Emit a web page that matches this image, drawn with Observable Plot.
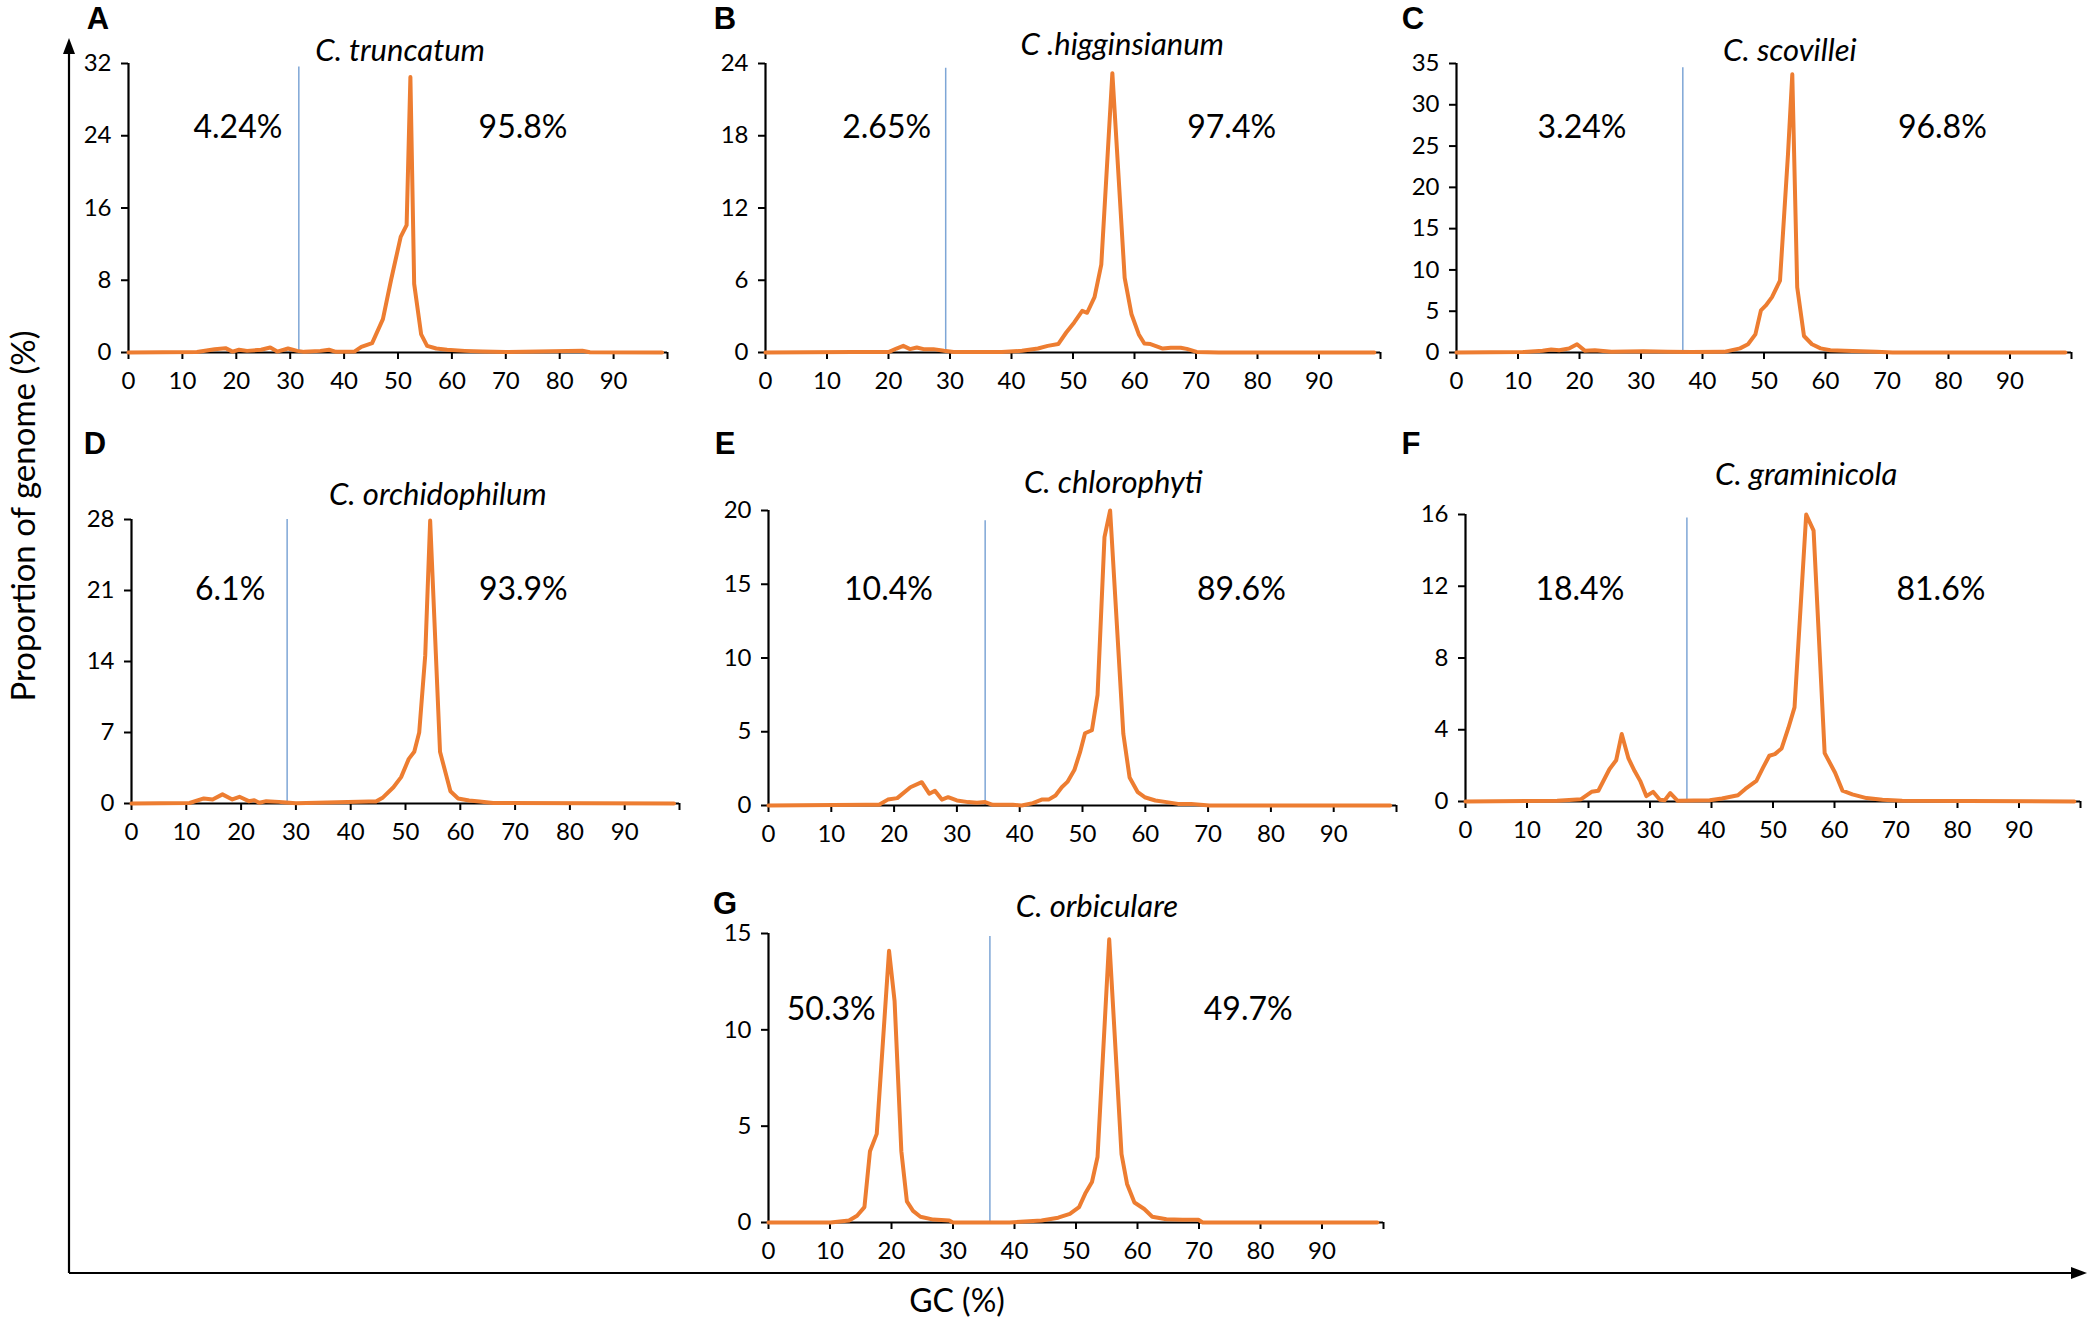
<!DOCTYPE html>
<html><head><meta charset="utf-8">
<script src="https://cdn.jsdelivr.net/npm/d3@7"></script>
<script src="https://cdn.jsdelivr.net/npm/@observablehq/plot@0.6"></script>
<style>
body{margin:0;background:#fff;}
#root{position:relative;width:2090px;height:1321px;background:#fff;overflow:hidden}
.panel{position:absolute}
.letter{position:absolute;font-family:"Liberation Sans",Arial,sans-serif;font-weight:bold;font-size:31px;line-height:1;transform:translate(-50%,-50%)}
</style></head><body><div id="root"></div>
<script>
// ---- Data (GC %, proportion of genome %) ----
const truncatumGC  = [0,12.7,16,18,19.3,20.5,22,24.6,26.3,27.6,29.6,31.3,32.6,35.6,37.2,38.5,41.9,43.2,45.2,47.2,48.7,50.5,51.6,52.3,53,54.3,55.4,57.1,59.1,62.4,65.7,70,84.2,85.6,99];
const truncatumPct = [0,0.05,0.37,0.48,0.1,0.3,0.18,0.3,0.55,0.1,0.44,0.18,0.07,0.18,0.3,0.07,0.1,0.63,1.04,3.7,8.0,12.8,14.1,30.5,7.6,2.0,0.74,0.44,0.3,0.18,0.1,0.05,0.2,0.03,0];

const higginsGC  = [0,14.2,20.1,21.3,22.4,23.5,24.6,25.7,27.3,29,30.6,38.4,41.7,44.3,45.9,47.6,48.9,50.2,51.5,52.3,53.5,54.6,56.4,58.4,59.5,60.7,61.6,62.6,64.6,65.9,67.5,68.5,70.1,73.7,99];
const higginsPct = [0,0.05,0.05,0.33,0.55,0.28,0.42,0.28,0.28,0.14,0.05,0.05,0.14,0.33,0.55,0.7,1.66,2.5,3.46,3.3,4.6,7.3,23.2,6.2,3.2,1.5,0.75,0.7,0.33,0.4,0.4,0.3,0.05,0,0];

const scovilleiGC  = [0,10.8,14,15.4,16.7,18.3,19.6,20.9,22.5,25.2,30.4,34.3,38.2,43.5,46.1,47.4,48.6,49.5,50.3,51.3,52.6,53.9,54.6,55.4,56.5,57.8,59.2,60.8,63.1,68.3,70.9,99];
const scovilleiPct = [0,0.05,0.2,0.36,0.28,0.49,1.0,0.2,0.28,0.1,0.16,0.1,0.05,0.08,0.5,1.0,2.2,5.1,5.7,6.7,8.7,24,33.7,7.9,2.0,1.0,0.5,0.28,0.2,0.08,0,0];

const orchidGC  = [0,10.6,13.2,14.8,16.6,18.4,19.7,21.4,22.4,23.3,24.6,26.9,28.2,30,43.3,44.6,45.9,47.8,49.2,50.6,51.6,52.5,53.6,54.5,56.3,58.2,59.6,61.6,63.5,66,99];
const orchidPct = [0,0.05,0.5,0.4,0.9,0.4,0.66,0.23,0.33,0.07,0.23,0.16,0.1,0.03,0.2,0.2,0.6,1.6,2.6,4.4,5.1,7.0,14.6,27.9,5.1,1.2,0.5,0.3,0.2,0.05,0];

const chloroGC  = [0,15.5,17.6,19,20.5,22.6,24.4,25.6,26.5,27.6,28.6,30,31.8,33.2,34.5,35.7,38.9,40.3,42.1,43.5,44.6,45.7,46.7,47.6,48.7,49.6,50.4,51.5,52.4,53.5,54.4,56.5,57.5,58.8,59.9,61.6,63.4,65.2,67.3,70.2,99];
const chloroPct = [0,0.05,0.05,0.4,0.5,1.24,1.58,0.8,1.0,0.4,0.56,0.34,0.23,0.18,0.23,0.05,0.05,0,0.16,0.4,0.4,0.68,1.24,1.6,2.4,3.6,4.9,5.1,7.5,18.2,20,4.86,1.9,0.9,0.56,0.34,0.23,0.11,0.11,0,0];

const gramGC  = [0,14.9,18.8,20.5,21.6,23.4,24.5,25.4,26.5,27.5,28.4,29.4,30.5,31.6,32.4,33.3,34.5,39.7,41.7,44.3,45.5,47.3,48.4,49.4,50.3,51.4,52.5,53.5,55.4,56.6,58.4,60.1,61.3,62.9,65.2,67.8,71,99];
const gramPct = [0,0.04,0.13,0.54,0.6,1.8,2.3,3.76,2.4,1.7,1.15,0.3,0.54,0.1,0.07,0.47,0.04,0.07,0.17,0.35,0.7,1.15,1.9,2.55,2.64,2.96,4.1,5.25,16.0,15.1,2.7,1.6,0.6,0.4,0.19,0.1,0.04,0];

const orbicGC  = [0,10.1,13.1,14.4,15.6,16.5,17.6,19.6,20.5,21.6,22.5,23.5,24.7,26.8,29.4,30,39.2,44.4,47.1,49,50.5,51.5,52.6,53.5,55.4,57.4,58.3,59.5,61.1,62.4,64.7,67.3,69.9,70.6,99];
const orbicPct = [0,0,0.1,0.35,0.8,3.7,4.6,14.1,11.5,3.7,1.1,0.6,0.3,0.15,0.1,0,0,0.1,0.25,0.45,0.8,1.5,2.1,3.4,14.7,3.55,2.0,1.04,0.7,0.3,0.17,0.14,0.14,0,0];

const speciesNames = ["C. truncatum","C .higginsianum","C. scovillei","C. orchidophilum","C. chlorophyti","C. graminicola","C. orbiculare"];
const panelLetters = ["A","B","C","D","E","F","G"];
const lowGCShare  = ["4.24%","2.65%","3.24%","6.1%","10.4%","18.4%","50.3%"];
const highGCShare = ["95.8%","97.4%","96.8%","93.9%","89.6%","81.6%","49.7%"];
const splitGC  = [31.6,29.3,36.8,28.4,34.5,36,36];
const splitTop = [31.6,23.6,34.5,28,19.3,15.8,14.85];
const yMax  = [32,24,35,28,20,16,15];
const yStep = [8,6,5,7,5,4,5];
const seriesGC  = [truncatumGC,higginsGC,scovilleiGC,orchidGC,chloroGC,gramGC,orbicGC];
const seriesPct = [truncatumPct,higginsPct,scovilleiPct,orchidPct,chloroPct,gramPct,orbicPct];

// ---- Layout (frame edges in page pixels) ----
const frames = [
  {L:128,R:667,T:63,B:352},
  {L:765,R:1380,T:63,B:352},
  {L:1456,R:2071,T:63,B:352},
  {L:131,R:679,T:519,B:803},
  {L:768,R:1396,T:510,B:805},
  {L:1465,R:2080,T:514,B:801},
  {L:768,R:1383,T:933,B:1222}
];
const titleX = [50.4,58,54.2,55.9,54.9,55.4,53.4];
const titleY = [51,45,51,495,483,475,907];
const labelX = [[20.3,73.2],[19.7,75.8],[20.4,79],[18,71.5],[19.1,75.3],[18.6,77.3],[10.2,78]];
const labelY = [127,127,127,589,589,589,1009];
const letterPos = [[98,18],[725,18],[1413,18],[95,443],[725,443],[1411,443],[725,903]];

const root = document.getElementById("root");
const FONT = "Lato, 'Open Sans', sans-serif";
const ORANGE = "#ED7D31";

// background: big axes arrows and titles
const bg = d3.select(root).append("svg").attr("width",2090).attr("height",1321)
  .style("position","absolute").style("left","0").style("top","0");
bg.append("line").attr("x1",69).attr("y1",1273).attr("x2",69).attr("y2",52).attr("stroke","#000").attr("stroke-width",2.2);
bg.append("path").attr("d","M69,38 L63,54 L75,54 Z").attr("fill","#000");
bg.append("line").attr("x1",69).attr("y1",1273).attr("x2",2072).attr("y2",1273).attr("stroke","#000").attr("stroke-width",2.2);
bg.append("path").attr("d","M2087,1273 L2071,1267 L2071,1279 Z").attr("fill","#000");
bg.append("text").attr("transform","translate(35,516) rotate(-90)").attr("text-anchor","middle")
  .attr("font-family",FONT).attr("font-size",33).attr("fill","#000").text("Proportion of genome (%)");
bg.append("text").attr("x",957).attr("y",1312).attr("text-anchor","middle")
  .attr("font-family",FONT).attr("font-size",32).attr("fill","#000").text("GC (%)");

const M = {l:60, r:8, t:70, b:50};
frames.forEach((f, i) => {
  const data = seriesGC[i].map((g, k) => ({gc: g, pct: seriesPct[i][k]}));
  const w = f.R - f.L, h = f.B - f.T;
  const chart = Plot.plot({
    width: w + M.l + M.r, height: h + M.t + M.b,
    marginLeft: M.l, marginRight: M.r, marginTop: M.t, marginBottom: M.b,
    style: {fontFamily: FONT, fontSize: "24px", color: "#000", background: "transparent", overflow: "visible"},
    x: {domain: [0, 100]},
    y: {domain: [0, yMax[i]]},
    marks: [
      Plot.ruleX([splitGC[i]], {y1: 0, y2: splitTop[i], stroke: "#7ea6d6", strokeWidth: 1.5}),
      Plot.axisX({ticks: d3.range(0, 101, 10), tickFormat: d => d === 100 ? "" : d, tickSize: 7, tickPadding: 12, strokeWidth: 2, label: null, fontSize: 24}),
      Plot.axisY({ticks: d3.range(0, yMax[i] + 0.001, yStep[i]), tickSize: 7, tickPadding: 10, strokeWidth: 2, label: null, fontSize: 24}),
      Plot.ruleY([0], {x1: 0, x2: 100, stroke: "#000", strokeWidth: 2.2}),
      Plot.ruleX([0], {y1: 0, y2: yMax[i], stroke: "#000", strokeWidth: 2.2}),
      Plot.line(data, {x: "gc", y: "pct", stroke: ORANGE, strokeWidth: 4, strokeLinejoin: "round"}),
      Plot.text([speciesNames[i]], {x: titleX[i], frameAnchor: "top", lineAnchor: "middle", dy: titleY[i] - f.T, fontStyle: "italic", fontSize: 31, text: d => d}),
      Plot.text([lowGCShare[i], highGCShare[i]], {x: (d, k) => labelX[i][k], frameAnchor: "top", lineAnchor: "middle", dy: labelY[i] - f.T, fontSize: 32, text: d => d})
    ]
  });
  chart.classList.add("panel");
  chart.style.left = (f.L - M.l) + "px";
  chart.style.top = (f.T - M.t) + "px";
  root.appendChild(chart);

  const lt = document.createElement("div");
  lt.className = "letter";
  lt.textContent = panelLetters[i];
  lt.style.left = letterPos[i][0] + "px";
  lt.style.top = letterPos[i][1] + "px";
  root.appendChild(lt);
});
</script></body></html>
